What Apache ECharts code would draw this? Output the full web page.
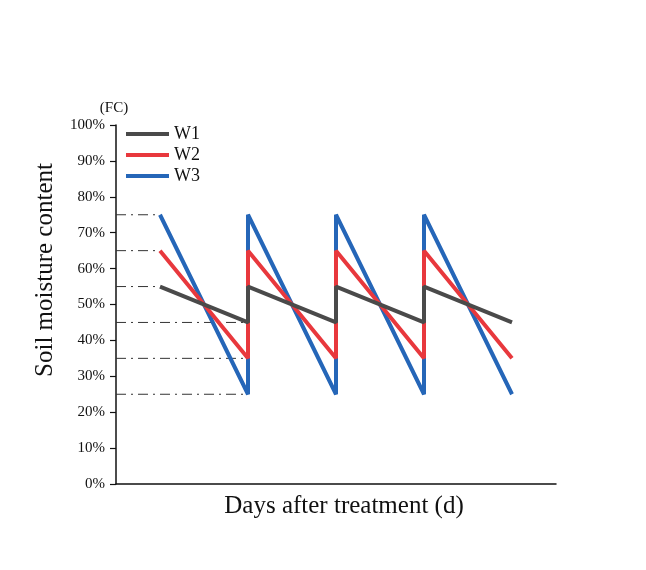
<!DOCTYPE html>
<html><head><meta charset="utf-8">
<script src="https://cdn.jsdelivr.net/npm/echarts@6/dist/echarts.min.js"></script>
<style>html,body{margin:0;padding:0;background:#fff}#c{width:646px;height:570px}</style>
</head><body><div id="c"></div>
<script>
// x positions in "cycle" units (each irrigation cycle = 1 unit)
const xPoints = [0.5, 1.5, 1.5, 2.5, 2.5, 3.5, 3.5, 4.5];
const w1 = [55, 45, 55, 45, 55, 45, 55, 45];
const w2 = [65, 35, 65, 35, 65, 35, 65, 35];
const w3 = [75, 25, 75, 25, 75, 25, 75, 25];
const refUpper = [75, 65, 55];   // dashed guides to start point
const refLower = [45, 35, 25];   // dashed guides to first drop
const yTicks = [0, 10, 20, 30, 40, 50, 60, 70, 80, 90, 100];

const font = 'Liberation Serif, Times New Roman, serif';
const pair = (xs, ys) => xs.map((x, i) => [x, ys[i]]);
const guide = (v, xEnd) => ({
  type: 'line', data: [[0, v], [xEnd, v]], symbol: 'none', silent: true,
  lineStyle: { color: '#333', width: 1, type: [10, 5, 2, 5] }, z: 1
});
const main = (name, ys, color, z) => ({
  name, type: 'line', data: pair(xPoints, ys), symbol: 'none',
  lineStyle: { color, width: 4 }, itemStyle: { color }, z
});

const chart = echarts.init(document.getElementById('c'));
chart.setOption({
  animation: false,
  grid: { left: 116, right: 90, top: 125, bottom: 86 },
  legend: {
    data: ['W1', 'W2', 'W3'], orient: 'vertical', left: 121, top: 120,
    icon: 'rect', itemWidth: 43, itemHeight: 4, itemGap: 3,
    textStyle: { fontFamily: font, fontSize: 18, color: '#111' }
  },
  xAxis: {
    type: 'value', min: 0, max: 5,
    axisLine: { lineStyle: { color: '#111', width: 1.5 } },
    axisTick: { show: false }, axisLabel: { show: false }, splitLine: { show: false }
  },
  yAxis: {
    type: 'value', min: yTicks[0], max: yTicks[yTicks.length - 1], interval: 10,
    axisLine: { show: true, lineStyle: { color: '#111', width: 1.5 } },
    axisTick: { show: true, inside: false, length: 6, lineStyle: { color: '#111', width: 1.2 } },
    axisLabel: { formatter: '{value}%', fontFamily: font, fontSize: 15, color: '#111', margin: 11 },
    splitLine: { show: false }
  },
  graphic: [
    { type: 'text', x: 114, y: 108,
      style: { text: '(FC)', font: '15px ' + font, fill: '#111', align: 'center', verticalAlign: 'middle' } },
    { type: 'text', x: 45, y: 270, rotation: Math.PI / 2,
      style: { text: 'Soil moisture content', font: '25px ' + font, fill: '#111', align: 'center', verticalAlign: 'middle' } },
    { type: 'text', x: 344, y: 506,
      style: { text: 'Days after treatment (d)', font: '25px ' + font, fill: '#111', align: 'center', verticalAlign: 'middle' } }
  ],
  series: [
    ...refUpper.map(v => guide(v, xPoints[0])),
    ...refLower.map(v => guide(v, xPoints[1])),
    main('W3', w3, '#2566b8', 3),
    main('W2', w2, '#e8383d', 4),
    main('W1', w1, '#4a4a4a', 5)
  ]
});
</script></body></html>
